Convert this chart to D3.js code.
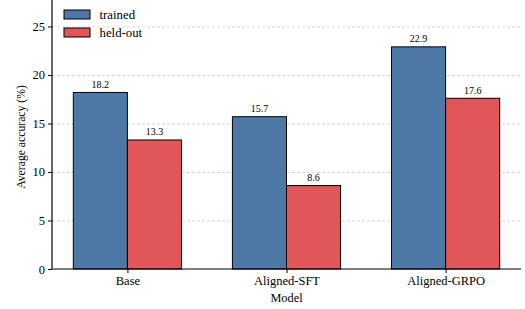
<!DOCTYPE html>
<html>
<head>
<meta charset="utf-8">
<script src="https://cdn.jsdelivr.net/npm/d3@7"></script>
<style>
  body { margin: 0; background: #fff; }
  svg text { font-family: "Liberation Serif", serif; }
  .grid line { stroke: #cccccc; stroke-dasharray: 3,2; stroke-width: 0.8; }
  .grid .domain { display: none; }
</style>
</head>
<body>
<svg id="chart" width="525" height="309"></svg>
<script>
"use strict";

var models = ["Base", "Aligned-SFT", "Aligned-GRPO"];
var trained = [18.2, 15.7, 22.9];
var heldOut = [13.3, 8.6, 17.6];
var yTicks = [0, 5, 10, 15, 20, 25];
var seriesNames = ["trained", "held-out"];
var seriesColors = ["#4e79a7", "#e15759"];

var svg = d3.select("#chart");
var mLeft = 52, mRight = 521, mTop = 0, mBottom = 269;
var barW = 0.34;
var serif = "'Liberation Serif', serif";

var x = d3.scaleLinear().domain([-0.474, 2.474]).range([mLeft, mRight]);
var y = d3.scaleLinear().domain([0, 27.73]).range([mBottom, mTop]);

// grid
svg.append("g").attr("class", "grid")
    .attr("transform", "translate(" + mLeft + ",0)")
    .call(d3.axisRight(y).tickValues(yTicks.slice(1)).tickSize(mRight - mLeft).tickFormat(""));

var data = [trained, heldOut];
data.forEach(function (vals, s) {
    var g = svg.append("g");
    g.selectAll("rect").data(vals).enter().append("rect")
        .attr("x", function (d, i) { return x(i + (s === 0 ? -barW : 0)); })
        .attr("y", function (d) { return y(d); })
        .attr("width", x(barW) - x(0))
        .attr("height", function (d) { return y(0) - y(d); })
        .attr("fill", seriesColors[s])
        .attr("stroke", "#000")
        .attr("stroke-width", 1);
    g.selectAll("text").data(vals).enter().append("text")
        .attr("x", function (d, i) { return x(i + (s === 0 ? -barW / 2 : barW / 2)); })
        .attr("y", function (d) { return y(d) - 4.5; })
        .attr("text-anchor", "middle")
        .attr("font-size", 10)
        .text(function (d) { return d.toFixed(1); });
});

// axes
var gy = svg.append("g").attr("transform", "translate(" + mLeft + ",0)")
    .call(d3.axisLeft(y).tickValues(yTicks).tickSize(4).tickPadding(3));
var gx = svg.append("g").attr("transform", "translate(0," + mBottom + ")")
    .call(d3.axisBottom(x).tickValues([0, 1, 2]).tickFormat(function (d) { return models[d]; })
        .tickSize(4).tickPadding(3));
[gy, gx].forEach(function (g) {
    g.attr("font-family", serif);
    g.selectAll("text").attr("font-size", 12.5).attr("fill", "#000");
    g.selectAll("line").attr("stroke", "#000");
    g.select(".domain").attr("stroke", "#000").attr("stroke-width", 1.2);
});
gx.select(".domain").attr("d", "M" + mLeft + ",0H" + mRight);
gy.select(".domain").attr("d", "M0," + mBottom + "V" + mTop);

svg.append("text")
    .attr("transform", "translate(25," + 137 + ") rotate(-90)")
    .attr("text-anchor", "middle")
    .attr("font-size", 11.7)
    .text("Average accuracy (%)");
svg.append("text")
    .attr("x", (mLeft + mRight) / 2)
    .attr("y", 302)
    .attr("text-anchor", "middle")
    .attr("font-size", 12.3)
    .text("Model");

// legend
var legend = svg.append("g").attr("transform", "translate(64,10)");
seriesNames.forEach(function (name, i) {
    var lg = legend.append("g").attr("transform", "translate(0," + (i * 18) + ")");
    lg.append("rect").attr("width", 26).attr("height", 9)
        .attr("fill", seriesColors[i]).attr("stroke", "#000").attr("stroke-width", 1);
    lg.append("text").attr("x", 35.5).attr("y", 9).attr("font-size", 12.8).text(name);
});
</script>
</body>
</html>
